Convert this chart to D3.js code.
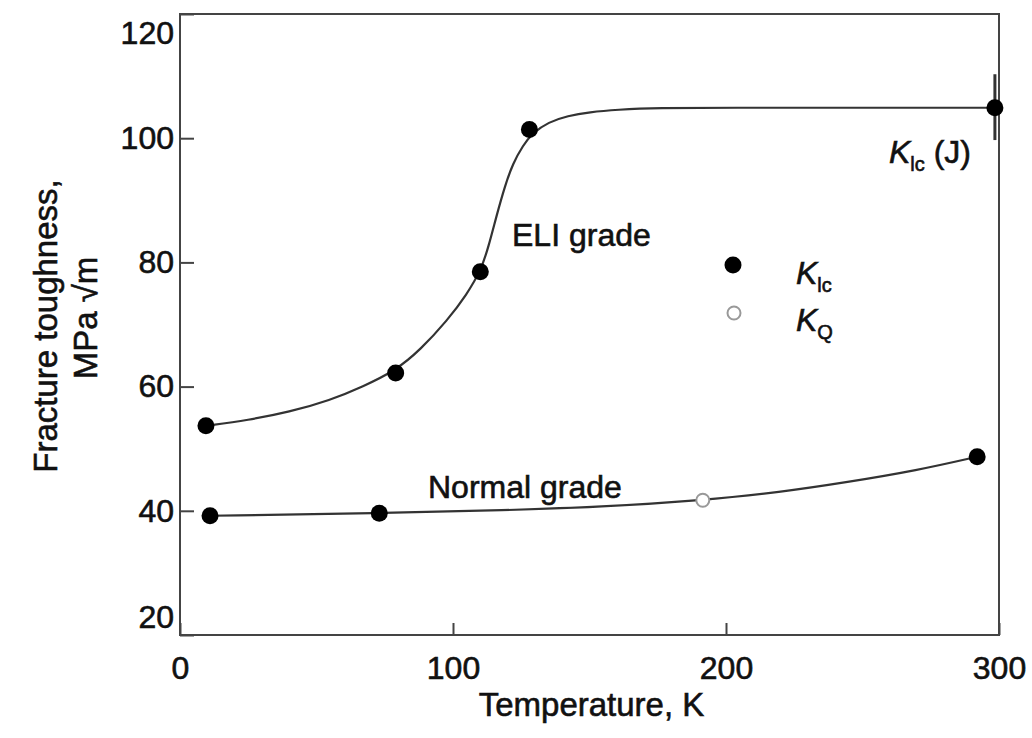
<!DOCTYPE html>
<meta charset="utf-8">
<style>
body { margin: 0; background: #fff; }
svg text { font-family: "Liberation Sans", Arial, sans-serif; fill: #111; stroke: #111; stroke-width: 0.6px; }
.frame { fill: none; stroke: #444; stroke-width: 2; }
.axis path { display: none; }
.axis line { stroke: #444; stroke-width: 2; }
.curve { fill: none; stroke: #333; stroke-width: 2.2px; }
</style>
<body>
<svg width="1032" height="738"></svg>
<script src="https://d3js.org/d3.v7.min.js"></script>
<script>

// measured points, temperature in K, toughness in MPa sqrt(m)
var eliT   = [9.5, 79, 110, 128, 298.5];
var eliK   = [53.7, 62.2, 78.5, 101.4, 104.9];
var normT  = [11, 73, 292];
var normK  = [39.2, 39.6, 48.7];
var openT  = [191.5];
var openK  = [41.7];

// hand-drawn fit curves
var eliCurveT  = [9.5, 25, 40, 55, 67, 79, 88, 98, 105, 110.3, 113, 116, 119, 122, 125.6, 129, 135, 142, 150, 160, 175, 200, 250, 298.5];
var eliCurveK  = [53.7, 54.6, 55.9, 57.8, 60.0, 62.6, 65.9, 70.7, 74.8, 78.8, 82.5, 87.6, 92.3, 96.0, 98.8, 100.8, 102.6, 103.6, 104.2, 104.6, 104.9, 104.9, 104.9, 104.9];
var normCurveT = [11, 73, 120, 153.8, 191.5, 220, 244.3, 270, 292];
var normCurveK = [39.2, 39.6, 40.1, 40.6, 41.7, 43.0, 44.6, 46.5, 48.7];

// J-integral scatter bar at 300 K
var errT = 298.5, errLo = 99.7, errHi = 110.3;

var xTicks = [0, 100, 200, 300];
var yTicks = [20, 40, 60, 80, 100, 120];

var svg = d3.select("svg");
var pLeft = 180, pRight = 999, pTop = 14, pBottom = 635;

var x = d3.scaleLinear().domain([0, 300]).range([pLeft, pRight]);
var y = d3.scaleLinear().domain([20, 120]).range([pBottom, pTop]);

// x axis
var xg = svg.append("g")
    .attr("class", "axis")
    .attr("transform", "translate(0," + pBottom + ")")
    .call(d3.axisBottom(x).tickValues(xTicks).tickSizeInner(-12).tickSizeOuter(0).tickPadding(21));
xg.selectAll("text").style("font-size", "32px");

// y axis
var yg = svg.append("g")
    .attr("class", "axis")
    .attr("transform", "translate(" + pLeft + ",0)")
    .call(d3.axisLeft(y).tickValues(yTicks).tickSizeInner(-14).tickSizeOuter(0).tickPadding(6));
yg.selectAll("text")
    .style("font-size", "32px")
    .attr("y", function(d) { return d == 120 ? 19 : (d == 20 ? -18 : 0); });

svg.append("rect")
    .attr("class", "frame")
    .attr("x", pLeft).attr("y", pTop)
    .attr("width", pRight - pLeft).attr("height", pBottom - pTop);

// axis titles
svg.append("text")
    .attr("x", (pLeft + pRight) / 2 + 2)
    .attr("y", 716)
    .attr("text-anchor", "middle")
    .style("font-size", "33px")
    .text("Temperature, K");

var yt = svg.append("text")
    .attr("transform", "translate(57,326) rotate(-90)")
    .attr("text-anchor", "middle")
    .style("font-size", "33px");
yt.append("tspan").attr("x", 0).attr("y", 0).text("Fracture toughness,");
yt.append("tspan").attr("x", 8).attr("y", 40).text("MPa \u221Am");

// curves
var line = d3.line()
    .x(function(d) { return x(d[0]); })
    .y(function(d) { return y(d[1]); })
    .curve(d3.curveBasis);

svg.append("path").attr("class", "curve")
    .attr("d", line(d3.zip(eliCurveT, eliCurveK)));
svg.append("path").attr("class", "curve")
    .attr("d", line(d3.zip(normCurveT, normCurveK)));

// error bar
svg.append("line")
    .attr("x1", x(errT)).attr("x2", x(errT))
    .attr("y1", y(errLo)).attr("y2", y(errHi))
    .attr("stroke", "#333").attr("stroke-width", 3);

// points
svg.selectAll(".eli").data(d3.zip(eliT, eliK)).enter().append("circle")
    .attr("cx", function(d) { return x(d[0]); })
    .attr("cy", function(d) { return y(d[1]); })
    .attr("r", 8.5).attr("fill", "#000");
svg.selectAll(".norm").data(d3.zip(normT, normK)).enter().append("circle")
    .attr("cx", function(d) { return x(d[0]); })
    .attr("cy", function(d) { return y(d[1]); })
    .attr("r", 8.5).attr("fill", "#000");
svg.selectAll(".open").data(d3.zip(openT, openK)).enter().append("circle")
    .attr("cx", function(d) { return x(d[0]); })
    .attr("cy", function(d) { return y(d[1]); })
    .attr("r", 6.5).attr("fill", "#fff").attr("stroke", "#999").attr("stroke-width", 2);

// curve labels
svg.append("text").attr("x", 512).attr("y", 246).style("font-size", "32px").text("ELI grade");
svg.append("text").attr("x", 428).attr("y", 498).style("font-size", "32px").text("Normal grade");

function kLabel(px, py, sub, extra) {
  var t = svg.append("text").attr("x", px).attr("y", py).style("font-size", "32px");
  t.append("tspan").style("font-style", "italic").text("K");
  t.append("tspan").attr("dy", 8).style("font-size", "20px").text(sub);
  if (extra) t.append("tspan").attr("dy", -8).text(extra);
  return t;
}

// legend
svg.append("circle").attr("cx", 733).attr("cy", 265).attr("r", 8.5).attr("fill", "#000");
svg.append("circle").attr("cx", 734).attr("cy", 313).attr("r", 6.5)
    .attr("fill", "#fff").attr("stroke", "#999").attr("stroke-width", 2);
kLabel(796, 284, "lc");
kLabel(796, 331, "Q");

kLabel(889, 163, "lc", " (J)");

</script>
</body>
